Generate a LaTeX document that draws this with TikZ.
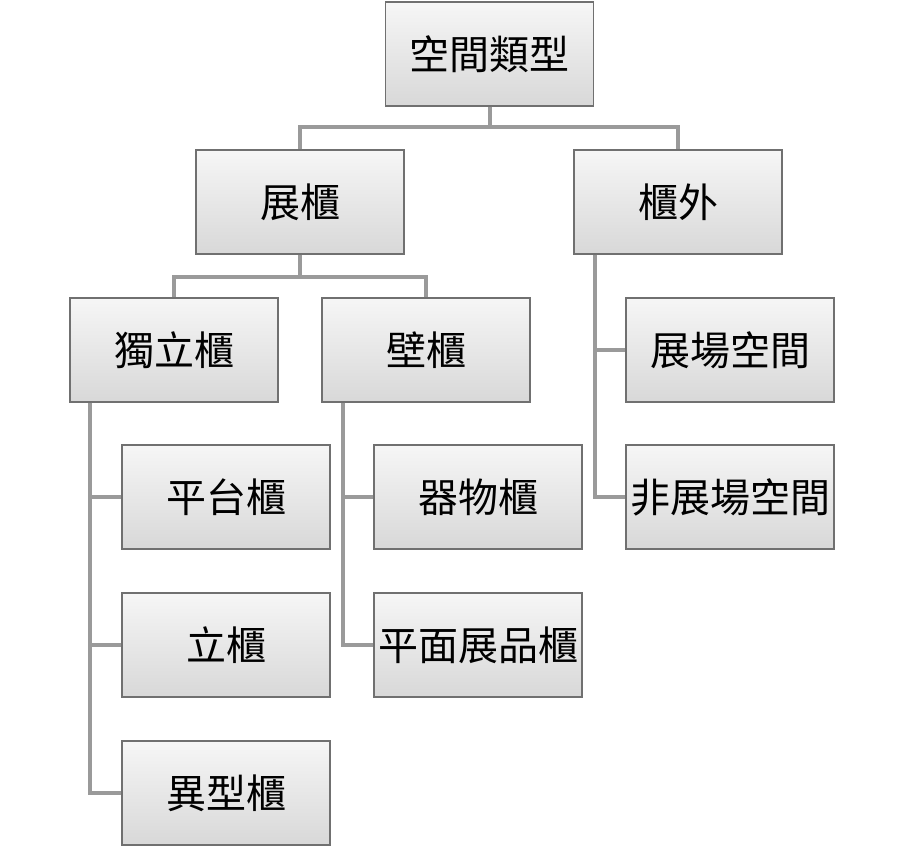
\documentclass[tikz,border=0pt]{standalone}
\usepackage{fontspec}
\setmainfont{Noto Sans CJK TC}
\usetikzlibrary{positioning}
\definecolor{boxtop}{HTML}{F6F6F6}
\definecolor{boxbot}{HTML}{D8D8D8}
\definecolor{boxline}{HTML}{707070}
\definecolor{linkgray}{HTML}{9A9A9A}
\tikzset{
	box/.style = {draw = boxline, line width = 0.8pt, top color = boxtop, bottom color = boxbot,
		minimum width = 156pt, minimum height = 78pt, inner sep = 0pt,
		font = \fontsize{30}{33}\selectfont},
	link/.style = {draw = linkgray, line width = 3pt}
}
\begin{document}
\begin{tikzpicture}[x = 0.75pt, y = -0.75pt]
		\useasboundingbox (0,0) rectangle (906,848);
		\node[box] (kjlx) at (489.5,54) {空間類型};
		\node[box] (zg) at (300,202) {展櫃};
		\node[box] (gw) at (678,202) {櫃外};
		\node[box] (dlg) at (174,350) {獨立櫃};
		\node[box] (bg) at (426,350) {壁櫃};
		\node[box] (zckj) at (730,350) {展場空間};
		\node[box] (fzckj) at (730,497) {非展場空間};
		\node[box] (ptg) at (226,497) {平台櫃};
		\node[box] (lg) at (226,645) {立櫃};
		\node[box] (yxg) at (226,793) {異型櫃};
		\node[box] (qwg) at (478,497) {器物櫃};
		\node[box] (pmzpg) at (478,645) {平面展品櫃};
		\draw [link] (kjlx.south) -- ++(0,20) -| (zg.north);
		\draw [link] (kjlx.south) -- ++(0,20) -| (gw.north);
		\draw [link] (zg.south) -- ++(0,22) -| (dlg.north);
		\draw [link] (zg.south) -- ++(0,22) -| (bg.north);
		\draw [link] (gw.south west) ++(22,0) |- (zckj.west);
		\draw [link] (gw.south west) ++(22,0) |- (fzckj.west);
		\draw [link] (dlg.south west) ++(21,0) |- (ptg.west);
		\draw [link] (dlg.south west) ++(21,0) |- (lg.west);
		\draw [link] (dlg.south west) ++(21,0) |- (yxg.west);
		\draw [link] (bg.south west) ++(22,0) |- (qwg.west);
		\draw [link] (bg.south west) ++(22,0) |- (pmzpg.west);
\end{tikzpicture}
\end{document}
